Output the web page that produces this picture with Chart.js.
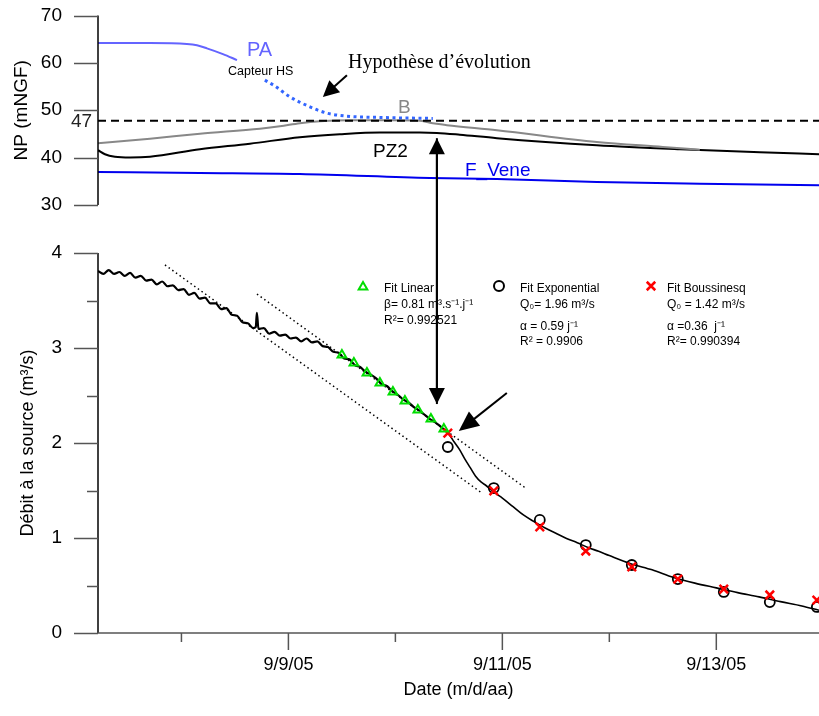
<!DOCTYPE html>
<html><head><meta charset="utf-8">
<script src="https://cdn.jsdelivr.net/npm/chart.js@4.4.0/dist/chart.umd.min.js"></script>
<style>html,body{margin:0;padding:0;background:#fff}canvas{display:block}</style>
</head><body>
<canvas id="c" width="819" height="716" style="width:819px;height:716px"></canvas>
<script>
// ---------- DATA (x = day of September 2005) ----------
const paDays = [7.22, 7.706, 8.051, 8.145, 8.238, 8.388, 8.519];
const paNP   = [64.19, 64.19, 63.98, 63.7, 63.07, 61.86, 60.59];

const paHypDays = [8.78, 8.874, 9.014, 9.201, 9.36, 9.547, 9.855, 10.35];
const paHypNP   = [56.36, 55.1, 52.83, 50.72, 49.39, 48.75, 48.48, 48.27];

const bDays = [7.22, 7.706, 8.173, 8.734, 8.92, 9.107, 9.294, 9.575, 9.949, 10.229, 10.322, 10.481, 10.949, 11.883, 12.5, 12.846];
const bNP   = [43.05, 44.0, 45.05, 46.1, 46.6, 47.27, 47.7, 47.9, 47.9, 47.8, 47.34, 46.85, 45.8, 43.3, 42.26, 41.67];

const pz2Days = [7.22, 7.285, 7.378, 7.52, 7.706, 8.173, 8.64, 9.107, 9.481, 9.855, 10.229, 10.388, 10.603, 10.949, 11.883, 12.66, 13.407, 13.96];
const pz2NP   = [41.56, 40.72, 40.19, 40.02, 40.19, 41.78, 42.94, 44.31, 44.95, 45.31, 45.31, 45.22, 44.84, 44.1, 42.62, 41.78, 41.14, 40.72];

const veneDays = [7.22, 8.173, 9.107, 10.322, 10.949, 11.883, 12.846, 13.96];
const veneNP   = [36.98, 36.77, 36.55, 35.71, 35.5, 34.86, 34.48, 34.16];

const refDays = [7.22, 13.96];
const refNP   = [47.8, 47.8];
const refLabel = '47';

const qDays = [7.22,7.27,7.32,7.37,7.42,7.47,7.52,7.57,7.62,7.67,7.72,7.77,7.82,7.87,7.92,7.97,8.02,8.07,8.12,8.17,8.22,8.27,8.32,8.37,8.42,8.47,8.52,8.57,8.62,8.67,8.695,8.705,8.72,8.77,8.82,8.87,8.92,8.97,9.02,9.07,9.12,9.17,9.22,9.27,9.32,9.37,9.42,9.47,9.52,9.57,9.62,9.67,9.72,9.77,9.82,9.87,9.92,9.97,10.02,10.07,10.12,10.17,10.22,10.27,10.32,10.37,10.42,10.47,10.50,10.55,10.60,10.65,10.70,10.75,10.80,10.85,10.90,10.95,11.0,11.1,11.2,11.3,11.4,11.5,11.6,11.7,11.8,11.9,12.0,12.2,12.4,12.6,12.8,13.0,13.2,13.4,13.6,13.8,13.96];
const qVals = [3.81,3.78,3.82,3.78,3.80,3.76,3.79,3.74,3.76,3.71,3.72,3.67,3.70,3.65,3.66,3.61,3.62,3.56,3.58,3.52,3.53,3.47,3.47,3.41,3.42,3.35,3.34,3.27,3.26,3.21,3.22,3.37,3.20,3.21,3.15,3.17,3.13,3.14,3.10,3.11,3.07,3.10,3.06,3.07,3.02,3.01,2.96,2.95,2.89,2.88,2.82,2.80,2.75,2.72,2.68,2.62,2.60,2.545,2.51,2.46,2.43,2.38,2.345,2.30,2.255,2.22,2.175,2.13,2.095,2.01,1.93,1.83,1.74,1.65,1.59,1.55,1.505,1.46,1.42,1.33,1.24,1.17,1.105,1.05,0.995,0.95,0.90,0.86,0.815,0.73,0.665,0.585,0.525,0.475,0.425,0.38,0.33,0.285,0.24];

const linDays = [9.5, 9.612, 9.734, 9.855, 9.977, 10.089, 10.21, 10.332, 10.453];
const linQ    = [2.926, 2.842, 2.737, 2.632, 2.537, 2.442, 2.347, 2.253, 2.147];

const fitDays = [10.49, 10.92, 11.35, 11.78, 12.21, 12.64, 13.07, 13.5, 13.94];
const expQ    = [1.958, 1.526, 1.19, 0.926, 0.716, 0.568, 0.432, 0.326, 0.274];
const bouQ    = [2.105, 1.495, 1.116, 0.863, 0.695, 0.568, 0.463, 0.40, 0.347];

const guide1Days = [7.846, 10.808], guide1Q = [3.874, 1.474];
const guide2Days = [8.706, 11.229], guide2Q = [3.568, 1.516];

const xTickDays = [8, 9, 10, 11, 12, 13];
const yTopTicks = [30, 35, 40, 45, 50, 55, 60, 65, 70];
const yBotTicks = [0, 0.5, 1, 1.5, 2, 2.5, 3, 3.5, 4];

const pts = (xs, ys) => xs.map((v, i) => ({x: v, y: ys[i]}));

// ---------- chart ----------
const FONT = '"Liberation Sans", Arial, sans-serif';
Chart.defaults.font.family = FONT;
Chart.defaults.color = '#000';

function line(ctx, x1, y1, x2, y2) { ctx.beginPath(); ctx.moveTo(x1, y1); ctx.lineTo(x2, y2); ctx.stroke(); }
function arrow(ctx, x1, y1, x2, y2, len, half) {
  const a = Math.atan2(y2 - y1, x2 - x1);
  ctx.beginPath(); ctx.moveTo(x1, y1);
  ctx.lineTo(x2 - (len - 2) * Math.cos(a), y2 - (len - 2) * Math.sin(a)); ctx.stroke();
  ctx.beginPath(); ctx.moveTo(x2, y2);
  ctx.lineTo(x2 - len * Math.cos(a) + half * Math.sin(a), y2 - len * Math.sin(a) - half * Math.cos(a));
  ctx.lineTo(x2 - len * Math.cos(a) - half * Math.sin(a), y2 - len * Math.sin(a) + half * Math.cos(a));
  ctx.closePath(); ctx.fill();
}
function text(ctx, s, x, y, font, color, align) {
  ctx.font = font; ctx.fillStyle = color; ctx.textAlign = align || 'left'; ctx.textBaseline = 'middle';
  ctx.fillText(s, x, y);
}

const annot = {
  id: 'annot',
  afterDraw(chart) {
    const ctx = chart.ctx, X = chart.scales.x, YT = chart.scales.yTop, YB = chart.scales.yBot;
    const L = chart.chartArea.left, R = chart.chartArea.right;
    ctx.save();
    // axes lines
    ctx.strokeStyle = '#000'; ctx.lineWidth = 1.5;
    line(ctx, L, YT.getPixelForValue(70), L, YT.getPixelForValue(30));
    line(ctx, L, YB.getPixelForValue(4), L, YB.getPixelForValue(0));
    ctx.strokeStyle = '#555';
    for (const s of [YT, YB]) for (const t of s.ticks) {
      const p = Math.round(s.getPixelForValue(t.value)) + 0.5;
      line(ctx, L - (t.label !== '' ? 24 : 11), p, L, p);
    }
    const by = YB.getPixelForValue(0);
    line(ctx, L, by, R, by);
    for (const t of X.ticks) {
      const p = X.getPixelForValue(t.value);
      line(ctx, p, by, p, by + (t.label !== '' ? 17 : 9));
    }
    // reference level label
    text(ctx, refLabel, 71, YT.getPixelForValue(refNP[0]) + 1, '19px ' + FONT, '#222');
    // series labels
    text(ctx, 'PA', 247, 50, '20px ' + FONT, 'rgb(100,100,255)');
    text(ctx, 'Capteur HS', 228, 72, '12.5px ' + FONT, '#000');
    text(ctx, 'Hypothèse d’évolution', 348, 63, '20px "Liberation Serif", "Times New Roman", serif', '#000');
    text(ctx, 'B', 398, 108, '19px ' + FONT, '#888');
    text(ctx, 'PZ2', 373, 152, '19px ' + FONT, '#000');
    text(ctx, 'F_Vene', 465, 171, '19px ' + FONT, '#0000ee');
    // arrows
    ctx.fillStyle = '#000'; ctx.strokeStyle = '#000'; ctx.lineWidth = 2;
    arrow(ctx, X.getPixelForValue(9.547), YT.getPixelForValue(57.4), X.getPixelForValue(9.322), YT.getPixelForValue(52.8), 16, 8);
    const ax = X.getPixelForValue(10.388);
    const topTip = YT.getPixelForValue(44.1), botTip = YB.getPixelForValue(2.41);
    arrow(ctx, ax, botTip, ax, topTip, 16, 8);
    arrow(ctx, ax, topTip, ax, botTip, 16, 8);
    arrow(ctx, X.getPixelForValue(11.042), YB.getPixelForValue(2.526), X.getPixelForValue(10.593), YB.getPixelForValue(2.126), 20, 9);
    // fit legend
    const f = '12px ' + FONT;
    const dp = Chart.helpers && Chart.helpers.drawPoint;
    if (dp) {
      ctx.fillStyle = 'rgba(0,0,0,0)';
      ctx.strokeStyle = '#00dd00'; ctx.lineWidth = 2;
      dp(ctx, {pointStyle: 'triangle', radius: 5, borderWidth: 2, rotation: 0}, 363, 287);
      ctx.strokeStyle = '#000'; ctx.lineWidth = 2;
      dp(ctx, {pointStyle: 'circle', radius: 5, borderWidth: 2, rotation: 0}, 499, 286);
      ctx.strokeStyle = '#ff0000'; ctx.lineWidth = 2.5;
      dp(ctx, {pointStyle: 'crossRot', radius: 6, borderWidth: 2.5, rotation: 0}, 651, 286);
    }
    text(ctx, 'Fit Linear', 384, 289, f, '#000');
    text(ctx, 'β= 0.81 m³.s⁻¹.j⁻¹', 384, 305, f, '#000');
    text(ctx, 'R²= 0.992521', 384, 321, f, '#000');
    text(ctx, 'Fit Exponential', 520, 289, f, '#000');
    text(ctx, 'Q₀= 1.96 m³/s', 520, 305, f, '#000');
    text(ctx, 'α = 0.59 j⁻¹', 520, 327, f, '#000');
    text(ctx, 'R² = 0.9906', 520, 342, f, '#000');
    text(ctx, 'Fit Boussinesq', 667, 289, f, '#000');
    text(ctx, 'Q₀ = 1.42 m³/s', 667, 305, f, '#000');
    text(ctx, 'α =0.36  j⁻¹', 667, 327, f, '#000');
    text(ctx, 'R²= 0.990394', 667, 342, f, '#000');
    ctx.restore();
  }
};

const lineDs = (label, data, yAxisID, color, width, dash) => ({
  label, data, yAxisID, xAxisID: 'x', showLine: true, borderColor: color, borderWidth: width,
  borderDash: dash || [], pointRadius: 0, fill: false, tension: 0.3, cubicInterpolationMode: 'monotone'
});
const noPad = s => { s.paddingTop = 0; s.paddingBottom = 0; s.paddingLeft = 0; s.paddingRight = 0; };

new Chart(document.getElementById('c'), {
  type: 'scatter',
  data: {
    datasets: [
      {label: 'Fit Linear', data: pts(linDays, linQ), yAxisID: 'yBot', pointStyle: 'triangle', pointRadius: 5,
        borderColor: '#00dd00', backgroundColor: 'rgba(0,0,0,0)', borderWidth: 2, showLine: false},
      {label: 'Fit Boussinesq', data: pts(fitDays, bouQ), yAxisID: 'yBot', pointStyle: 'crossRot', pointRadius: 6,
        borderColor: '#ff0000', borderWidth: 2.5, showLine: false},
      {label: 'Fit Exponential', data: pts(fitDays, expQ), yAxisID: 'yBot', pointStyle: 'circle', pointRadius: 5,
        borderColor: '#000', backgroundColor: 'rgba(0,0,0,0)', borderWidth: 1.8, showLine: false},
      Object.assign(lineDs('Débit', pts(qDays, qVals), 'yBot', '#000', 1.6), {tension: 0,
        segment: {borderWidth: c => (c.p0.parsed.x < 10.45 ? 2.2 : 1.6)}}),
      Object.assign(lineDs('guide1', pts(guide1Days, guide1Q), 'yBot', '#000', 1.5, [1.5, 3]), {tension: 0}),
      Object.assign(lineDs('guide2', pts(guide2Days, guide2Q), 'yBot', '#000', 1.5, [1.5, 3]), {tension: 0}),
      Object.assign(lineDs('47', pts(refDays, refNP), 'yTop', '#000', 2, [8, 5]), {tension: 0}),
      lineDs('PA hyp', pts(paHypDays, paHypNP), 'yTop', '#3366ff', 3, [3, 3.5]),
      lineDs('PA', pts(paDays, paNP), 'yTop', 'rgb(100,100,255)', 2),
      lineDs('B', pts(bDays, bNP), 'yTop', '#888888', 2),
      lineDs('PZ2', pts(pz2Days, pz2NP), 'yTop', '#000', 2),
      lineDs('F_Vene', pts(veneDays, veneNP), 'yTop', '#0000ee', 2)
    ]
  },
  options: {
    responsive: false, animation: false, devicePixelRatio: 1,
    layout: {padding: {left: 0, right: 0, top: 15.5, bottom: 0}, autoPadding: false},
    plugins: {legend: {display: false}, tooltip: {enabled: false}},
    scales: {
      x: {
        type: 'linear', position: 'bottom', min: 7.22, max: 13.96,
        afterBuildTicks: s => { s.ticks = xTickDays.map(v => ({value: v})); },
        afterFit: s => { s.height = 83; noPad(s); },
        ticks: {padding: 21, autoSkip: false, maxRotation: 0, font: {size: 18},
          callback: v => (v % 2 === 1 ? '9/' + v + '/05' : '')},
        grid: {display: false, drawTicks: false}, border: {display: false},
        title: {display: true, text: 'Date (m/d/aa)', font: {size: 18}, padding: {top: 0, bottom: 15}}
      },
      yBot: {
        type: 'linear', position: 'left', stack: 'v', stackWeight: 380, weight: 1, min: 0, max: 4,
        afterBuildTicks: s => { s.ticks = yBotTicks.map(v => ({value: v})); },
        afterFit: s => { s.width = 98; noPad(s); },
        ticks: {padding: 36, font: {size: 19}, callback: v => (Number.isInteger(v) ? String(v) : '')},
        grid: {display: false, drawTicks: false}, border: {display: false},
        title: {display: true, text: 'Débit à la source (m³/s)', font: {size: 18}, padding: {top: 17, bottom: 0}}
      },
      yGap: {
        type: 'linear', position: 'left', stack: 'v', stackWeight: 48, weight: 2, min: 0, max: 1,
        afterFit: s => { s.width = 98; noPad(s); },
        ticks: {display: false}, grid: {display: false, drawTicks: false}, border: {display: false}
      },
      yTop: {
        type: 'linear', position: 'left', stack: 'v', stackWeight: 189.5, weight: 3, min: 30, max: 70,
        afterBuildTicks: s => { s.ticks = yTopTicks.map(v => ({value: v})); },
        afterFit: s => { s.width = 98; noPad(s); },
        ticks: {padding: 36, font: {size: 19}, callback: v => (v % 10 === 0 ? String(v) : '')},
        grid: {display: false, drawTicks: false}, border: {display: false},
        title: {display: true, text: 'NP (mNGF)', font: {size: 19}, padding: {top: 10, bottom: 0}}
      }
    }
  },
  plugins: [annot]
});
</script>
</body></html>
